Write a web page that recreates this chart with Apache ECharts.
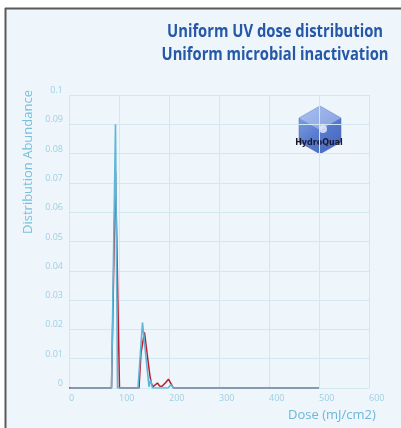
<!DOCTYPE html>
<html><head><meta charset="utf-8">
<script src="https://cdn.jsdelivr.net/npm/echarts@6/dist/echarts.min.js"></script>
<style>html,body{margin:0;padding:0;background:#fff}#c{width:401px;height:428px}</style>
</head><body><div id="c"></div>
<script>
const titleLines = ['Uniform UV dose distribution', 'Uniform microbial inactivation'];
const xTicks = [0, 100, 200, 300, 400, 500, 600];
const yTicks = [0, 0.01, 0.02, 0.03, 0.04, 0.05, 0.06, 0.07, 0.08, 0.09, 0.1];
const doseBlue = [3, 85, 93, 97, 138, 147, 160, 163, 167, 198, 204, 209, 500];
const valBlue  = [0, 0, 0.090, 0, 0, 0.0223, 0.0004, 0.0028, 0, 0, 0.0011, 0, 0];
const doseRed = [0, 85, 93, 101, 140, 144, 151, 156, 162, 165, 168, 172, 177, 181, 186, 193, 199, 204, 209, 500];
const valRed  = [0, 0, 0.074, 0, 0, 0.012, 0.019, 0.012, 0.004, 0.0015, 0.0005, 0.0008, 0.0017, 0.0007, 0.0006, 0.0018, 0.003, 0.0015, 0, 0];

const chart = echarts.init(document.getElementById('c'));
const zip = (a, b) => a.map((v, i) => [v, b[i]]);
const titleFont = 'bold 18px "Open Sans"';
const ctx = document.createElement('canvas').getContext('2d');
ctx.font = titleFont;
const targetW = [216, 227];
const titleGraphics = titleLines.map((t, i) => ({
  type: 'text', x: 275, y: 32 + i * 23,
  scaleX: targetW[i] / ctx.measureText(t).width,
  style: { text: t, fill: '#2658a8', font: titleFont, align: 'center', verticalAlign: 'middle' }
}));
chart.setOption({
  backgroundColor: '#ffffff',
  animation: false,
  graphic: [
    { type: 'rect', z: -10, shape: { x: 5, y: 8, width: 396, height: 420 }, style: { fill: '#eef5fb' } },
    { type: 'line', z: -5, shape: { x1: 5, y1: 8.5, x2: 401, y2: 8.5 }, style: { stroke: '#5a5a5a', lineWidth: 2 } },
    { type: 'line', z: -5, shape: { x1: 5.5, y1: 8, x2: 5.5, y2: 428 }, style: { stroke: '#5a5a5a', lineWidth: 2 } },
    ...titleGraphics,
    { type: 'text', x: 28, y: 162, rotation: Math.PI / 2, style: { text: 'Distribution Abundance', fill: '#78c0dc', font: '13px "Open Sans"', align: 'center', verticalAlign: 'middle' } },
    { type: 'text', x: 332, y: 415, style: { text: 'Dose (mJ/cm2)', fill: '#6bb8d8', font: '13px "Open Sans"', align: 'center', verticalAlign: 'middle' } },
    { type: 'polygon', shape: { points: [[320, 106], [341, 118], [341, 142], [320, 154], [299, 142], [299, 118]] },
      style: { fill: new echarts.graphic.LinearGradient(0, 0, 1, 1, [{ offset: 0, color: '#8aabe6' }, { offset: 0.5, color: '#5a7cd0' }, { offset: 1, color: '#4263b8' }]), stroke: '#4a68b5', lineWidth: 0.5 } },
    { type: 'polygon', shape: { points: [[320, 106], [341, 118], [320, 130], [299, 118]] }, style: { fill: 'rgba(200,215,250,0.5)' } },
    { type: 'circle', shape: { cx: 323, cy: 129, r: 4 }, style: { fill: 'rgba(235,240,255,0.8)' } },
    { type: 'text', x: 319, y: 143, style: { text: 'HydroQual', fill: '#1a1a2a', font: 'bold 8px "DejaVu Sans"', align: 'center', verticalAlign: 'middle' } }
  ],
  grid: { left: 69, right: 32, top: 95, bottom: 40 },
  xAxis: {
    type: 'value', min: 0, max: 600, interval: 100,
    axisLine: { show: false }, axisTick: { show: false },
    splitLine: { show: true, lineStyle: { color: '#d2e8f1', width: 1 } },
    axisLabel: { color: '#9fd0e4', fontSize: 9, fontFamily: 'Open Sans', align: 'left', margin: 6,
      formatter: v => xTicks.includes(v) ? String(v) : '' }
  },
  yAxis: {
    type: 'value', min: 0, max: 0.1, interval: 0.01,
    axisLine: { show: false }, axisTick: { show: false },
    splitLine: { show: true, lineStyle: { color: '#d2e8f1', width: 1 } },
    axisLabel: { color: '#9fd0e4', fontSize: 9, fontFamily: 'Open Sans', margin: 6, verticalAlign: 'bottom',
      formatter: v => { const t = yTicks.find(t => Math.abs(t - v) < 1e-9); return t === undefined ? '' : String(t); } }
  },
  series: [
    { type: 'line', data: zip(doseRed, valRed), showSymbol: false, lineStyle: { color: '#b41e2e', width: 1.5 }, z: 2 },
    { type: 'line', data: zip(doseBlue, valBlue), showSymbol: false, lineStyle: { color: '#5fb6d8', width: 1.6 }, z: 3 }
  ]
});
</script></body></html>
